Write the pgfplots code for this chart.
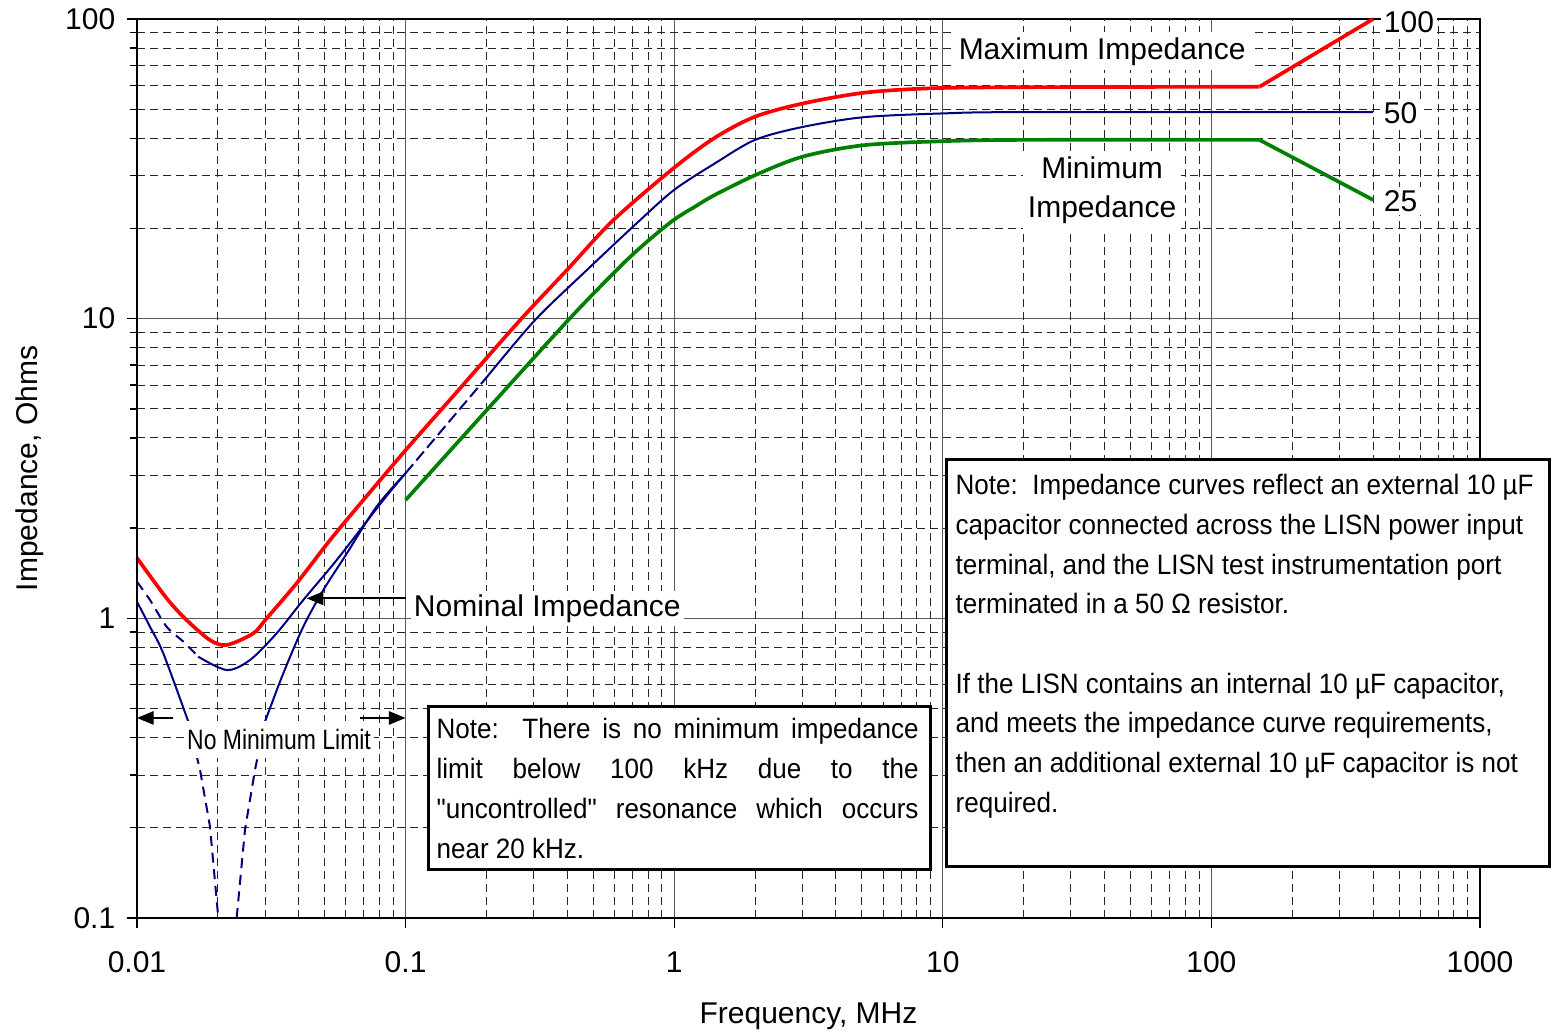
\documentclass[border=0pt]{standalone}
\usepackage{pgfplots}
\pgfplotsset{compat=1.18}
\usepackage{fontspec}
\setmainfont{Liberation Sans}
\newfontfamily\narrowfont[FakeStretch=0.82]{Liberation Sans}
\newfontfamily\notefont[FakeStretch=0.93]{Liberation Sans}
\usetikzlibrary{arrows.meta}
\definecolor{navy}{RGB}{0,0,128}
\definecolor{dgreen}{RGB}{0,128,0}
\tikzset{mgrid/.style={black!85, line width=0.3pt, dash pattern=on 2.4pt off 1.5pt},
 arr/.style={-{Triangle[length=5pt,width=4pt]}, line width=0.5pt}}
\begin{document}
\begin{tikzpicture}
\begin{axis}[
 scale only axis, width=402.9pt, height=269.7pt,
 xmode=log, ymode=log, xmin=0.01, xmax=1000, ymin=0.1, ymax=100,
 xtick={0.01,0.1,1,10,100,1000}, xticklabels={0.01,0.1,1,10,100,1000},
 ytick={0.1,1,10,100}, yticklabels={0.1,1,10,100},
 grid=major,
 major grid style={black!65, line width=0.35pt, solid},
 minor tick length=0pt,
 major tick length=3pt,
 tick align=outside, tick pos=left,
 tick style={black, line width=0.4pt},
 extra x ticks={0.02,0.03,0.04,0.05,0.06,0.07,0.08,0.09,0.2,0.3,0.4,0.5,0.6,0.7,0.8,0.9,2,3,4,5,6,7,8,9,20,30,40,50,60,70,80,90,200,300,400,500,600,700,800,900},
 extra x tick labels={\empty},
 extra x tick style={major tick length=0pt, major grid style={mgrid}},
 extra y ticks={0.2,0.3,0.4,0.5,0.6,0.7,0.8,0.9,2,3,4,5,6,7,8,9,20,30,40,50,60,70,80,90},
 extra y tick labels={\empty},
 extra y tick style={major tick length=2.2pt, major grid style={mgrid}},
 axis line style={black, line width=0.5pt},
 clip=false,
 tick label style={font=\fontsize{9}{10}\selectfont},
 xticklabel style={yshift=-3.6pt},
 xlabel={Frequency, MHz}, ylabel={Impedance, Ohms},
 label style={font=\fontsize{9}{10}\selectfont},
 xlabel style={at={(axis description cs:0.5,-0.109)}, anchor=center},
 ylabel style={at={(axis description cs:-0.0797,0.5)}, anchor=center},
]
% nominal, upper branch
\addplot[navy, line width=0.6pt, dash pattern=on 3pt off 2pt, smooth, tension=0.5] coordinates {
(0.01,1.325)(0.01118,1.151)(0.0129,0.937)(0.01488,0.836)(0.0169,0.745)};
\addplot[navy, line width=0.6pt, smooth, tension=0.5] coordinates {
(0.0169,0.745)(0.0216,0.672)(0.02635,0.726)(0.0331,0.891)(0.0416,1.151)(0.0554,1.565)(0.0826,2.48)(0.1,3.05)};
\addplot[navy, line width=0.6pt, dash pattern=on 3.5pt off 1.5pt] coordinates {
(0.1,3.05)(0.15,4.69)(0.2,6.36)};
\addplot[navy, line width=0.6pt, smooth, tension=0.5] coordinates {
(0.2,6.36)(0.3033,9.89)(0.472,14.5)(0.7245,20.8)(1,26.9)(1.42,33.0)(2,39.5)(3,43.6)(5.06,47.0)(10,48.4)(20,48.9)(400,48.9)};
% nominal, resonance branch
\addplot[navy, line width=0.6pt, smooth, tension=0.5] coordinates {
(0.01,1.136)(0.01118,0.937)(0.01253,0.764)(0.01553,0.452)};
\addplot[navy, line width=0.6pt, dash pattern=on 3pt off 2pt] coordinates {
(0.01553,0.452)(0.01717,0.312)(0.0187,0.202)(0.02008,0.1)};
\addplot[navy, line width=0.6pt, dash pattern=on 3pt off 2pt] coordinates {
(0.0235,0.1)(0.02524,0.197)(0.0275,0.312)(0.02996,0.452)};
\addplot[navy, line width=0.6pt, smooth, tension=0.5] coordinates {
(0.02996,0.452)(0.03505,0.655)(0.04159,0.937)(0.0494,1.243)(0.06,1.63)(0.078,2.36)(0.1,3.05)};
% minimum
\addplot[dgreen, line width=1.1pt, smooth, tension=0.5] coordinates {
(0.1,2.48)(0.2,4.94)(0.4033,9.89)(0.628,14.9)(0.8,18.2)(1,21.4)(1.2,23.7)(1.42,25.9)(2,30.1)(3,34.7)(5.06,37.9)(10,39.1)(20,39.5)(151,39.5)};
\addplot[dgreen, line width=1.1pt] coordinates {(151,39.5)(400,24.9)};
% maximum
\addplot[red, line width=1.1pt, smooth, tension=0.5] coordinates {
(0.01,1.59)(0.0129,1.166)(0.0153,0.987)(0.0187,0.846)(0.0216,0.815)(0.0271,0.891)(0.0304,1.0)(0.0393,1.309)(0.0523,1.823)(0.0696,2.48)(0.1,3.64)(0.15,5.5)(0.267,9.89)(0.398,14.5)(0.593,21.3)(1,31.9)(1.42,40.2)(2,47.2)(3,52.2)(5.06,56.7)(8.96,58.7)(20,59.2)(151,59.4)};
\addplot[red, line width=1.1pt] coordinates {(151,59.4)(400,100)};

\draw[line width=0.8pt] (rel axis cs:0,1) -- (rel axis cs:0,0) -- (rel axis cs:1,0);

\node[fill=white, inner sep=1.5pt, font=\fontsize{9}{10}\selectfont] at (axis cs:39.2,78) {Maximum Impedance};
\node[fill=white, inner sep=1.5pt, align=center, font=\fontsize{9}{11.7}\selectfont] at (axis cs:39.2,26.8) {Minimum\\Impedance};
\node[fill=white, inner sep=1pt, anchor=west, font=\fontsize{9}{10}\selectfont] at (axis cs:424,97.7) {100};
\node[fill=white, inner sep=1pt, anchor=west, font=\fontsize{9}{10}\selectfont] at (axis cs:424,48.5) {50};
\node[fill=white, inner sep=1pt, anchor=west, font=\fontsize{9}{10}\selectfont] at (axis cs:424,24.7) {25};

\draw[arr] (axis cs:0.1003,1.166) -- (axis cs:0.0428,1.166);
\node[fill=white, inner sep=1pt, anchor=west, font=\fontsize{9}{10}\selectfont] at (axis cs:0.1038,1.08) {Nominal Impedance};

\node[fill=white, inner xsep=1pt, inner ysep=2.5pt, font=\narrowfont\fontsize{8.4}{10}\selectfont] at (axis cs:0.0338,0.393) {No Minimum Limit};
\draw[arr] (axis cs:0.01365,0.465) -- (axis cs:0.01,0.465);
\draw[arr] (axis cs:0.0677,0.465) -- (axis cs:0.1,0.465);

\filldraw[fill=white, draw=black, line width=0.9pt] (rel axis cs:0.2169,0.235) rectangle (rel axis cs:0.5905,0.0534);
\node[anchor=base west, inner sep=0pt, font=\notefont\fontsize{8.4}{12}\selectfont] at (rel axis cs:0.2226,0.2002) {\parbox[t]{144.6pt}{\makebox[\linewidth][s]{Note:\ \ There is no minimum impedance}\\ \makebox[\linewidth][s]{limit below 100 kHz due to the}\\ \makebox[\linewidth][s]{"uncontrolled" resonance which occurs}\\ near 20 kHz.}};

\filldraw[fill=white, draw=black, line width=0.9pt] (rel axis cs:0.6031,0.5095) rectangle (rel axis cs:1.0521,0.0578);
\node[anchor=base west, inner sep=0pt, font=\notefont\fontsize{8.4}{11.9}\selectfont] at (rel axis cs:0.6091,0.4705) {\parbox[t]{178pt}{\raggedright Note:\ \ Impedance curves reflect an external 10 µF\\ capacitor connected across the LISN power input\\ terminal, and the LISN test instrumentation port\\ terminated in a 50 Ω resistor.\\[11.9pt] If the LISN contains an internal 10 µF capacitor,\\ and meets the impedance curve requirements,\\ then an additional external 10 µF capacitor is not\\ required.}};

\coordinate (BL) at (rel axis cs:-0.1020,-0.1257);
\coordinate (TR) at (rel axis cs:1.0536,1.0211);
\end{axis}
\pgfresetboundingbox
\useasboundingbox (BL) rectangle (TR);
\end{tikzpicture}
\end{document}
